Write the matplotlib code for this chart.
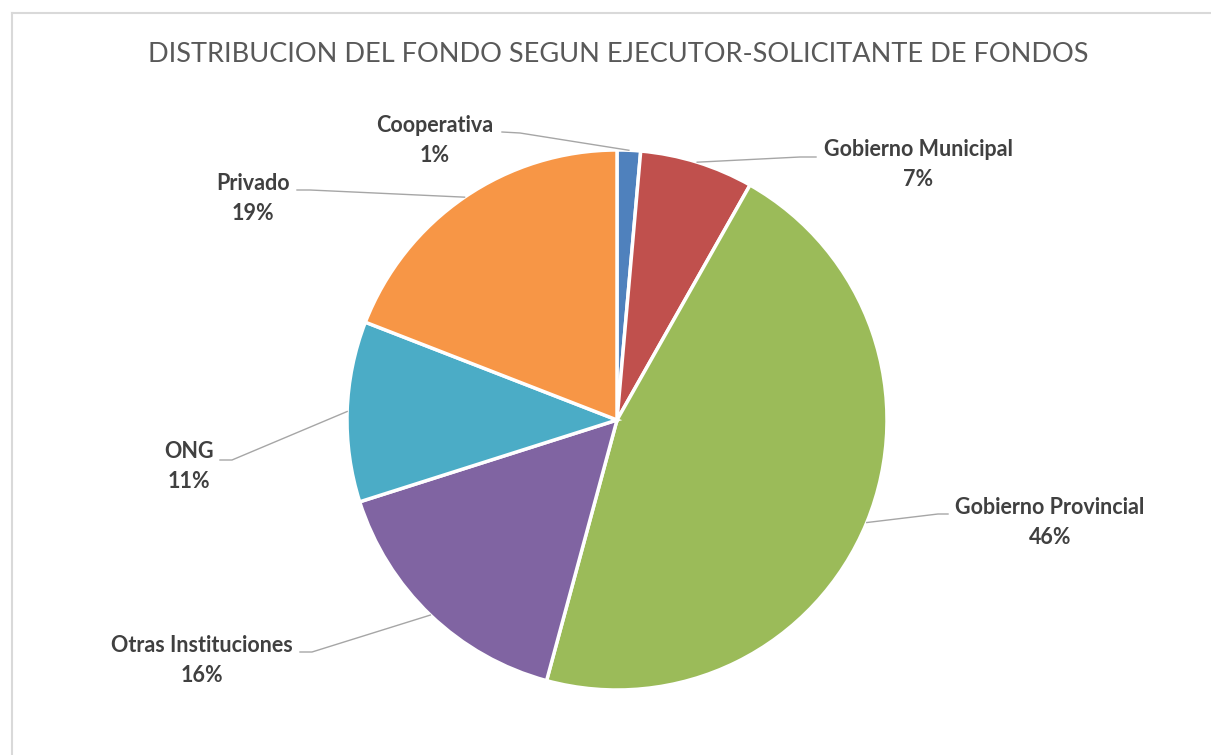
#! /usr/bin/env python3

import numpy as np
import matplotlib
matplotlib.use("Agg")
from matplotlib import pyplot as plt
from matplotlib.lines import Line2D

labels = ["Cooperativa", "Gobierno Municipal", "Gobierno Provincial",
          "Otras Instituciones", "ONG", "Privado"]
values = [1.4, 6.8, 46.0, 15.9, 10.8, 19.1]
colors = ["#4F81BD", "#C0504D", "#9BBB59", "#8064A2", "#4BACC6", "#F79646"]

W, H = 1211, 755

# label layout in pixels: text centre x, first line y, leader end, elbow
label_pos = [
    (435, 126, (502, 132), (520, 133)),
    (918, 150, (816, 157), (800, 157)),
    (1050, 507, (948, 514), (938, 514)),
    (202, 645, (300, 652), (312, 652)),
    (189, 452, (220, 460), (232, 460)),
    (253, 183, (297, 190), (310, 190)),
]

plt.rcParams["font.family"] = ["Lato", "DejaVu Sans"]

fig = plt.figure(figsize = (W / 100, H / 100), dpi = 100)

cx, cy, r = 617, 420, 270
ax = fig.add_axes([(cx - r) / W, (H - cy - r) / H, 2 * r / W, 2 * r / H])
wedges, _ = ax.pie(values, colors = colors, startangle = 90, counterclock = False,
                   radius = 1.0, wedgeprops = dict(edgecolor = "white", linewidth = 2.5))
ax.set_xlim(-1, 1)
ax.set_ylim(-1, 1)
ax.set_aspect("equal")
ax.axis("off")

def px(x, y):
    return x / W, 1 - y / H

for w, lab, v, (tx, ty, end, elbow) in zip(wedges, labels, values, label_pos):
    ang = np.deg2rad((w.theta1 + w.theta2) / 2)
    ex = cx + r * np.cos(ang)
    ey = cy - r * np.sin(ang)
    xs = [ex / W, elbow[0] / W, end[0] / W]
    ys = [1 - ey / H, 1 - elbow[1] / H, 1 - end[1] / H]
    fig.add_artist(Line2D(xs, ys, color = "#A6A6A6", linewidth = 1.0))
    fig.text(*px(tx, ty), lab, ha = "center", va = "center", fontsize = 15.5,
             fontweight = "bold", color = "#404040")
    fig.text(*px(tx, ty + 30), f"{v:.0f}%", ha = "center", va = "center", fontsize = 15.5,
             fontweight = "bold", color = "#404040")

fig.text(*px(618, 55), "DISTRIBUCION DEL FONDO SEGUN EJECUTOR-SOLICITANTE DE FONDOS",
         ha = "center", va = "center", fontsize = 19.5, color = "#595959")

# chart frame (top and left edges visible)
fig.add_artist(Line2D([12 / W, 1], [1 - 13 / H, 1 - 13 / H], color = "#D9D9D9", linewidth = 1.5))
fig.add_artist(Line2D([12 / W, 12 / W], [1 - 13 / H, 0], color = "#D9D9D9", linewidth = 1.5))

fig.savefig("out.png", dpi = 100, facecolor = "white")
